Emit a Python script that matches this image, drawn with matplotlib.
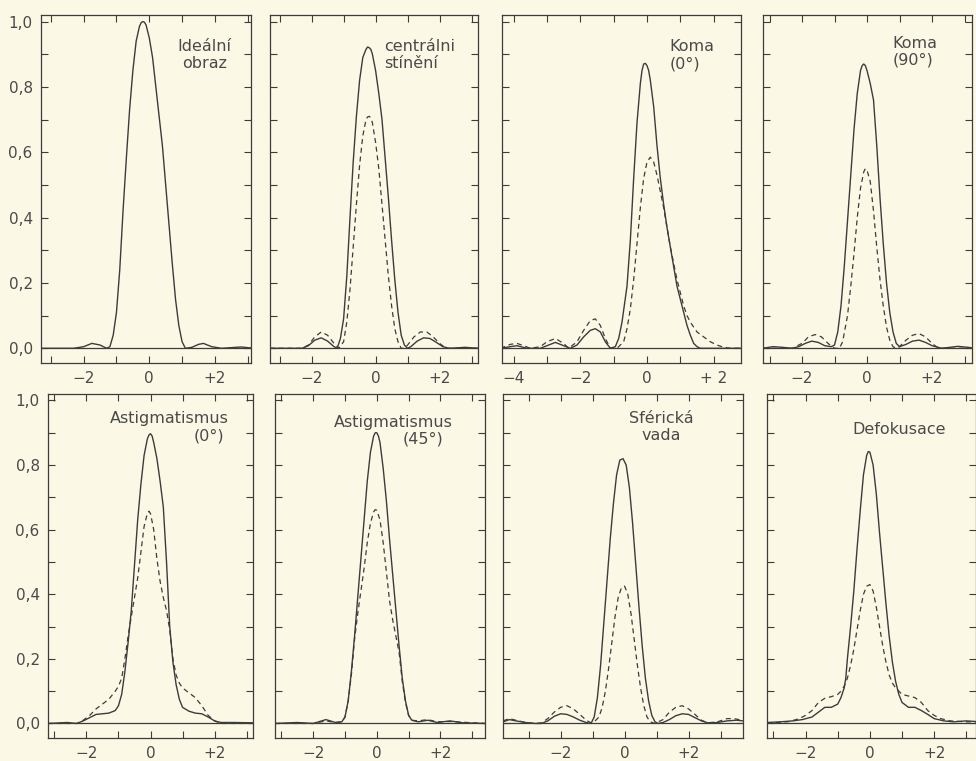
import numpy as np
import matplotlib.pyplot as plt

# ---- data (relative intensity vs. position) ----

# Idealni obraz (solid only)
x_ideal = [-3.3, -2.3, -2.0, -1.75, -1.5, -1.3, -1.2, -1.1, -1.0, -0.9, -0.8, -0.7, -0.6, -0.5,
           -0.4, -0.3, -0.25, -0.2, -0.15, -0.1, 0.0, 0.1, 0.2, 0.3, 0.4, 0.5, 0.6, 0.7, 0.8,
           0.9, 1.0, 1.1, 1.3, 1.5, 1.65, 1.9, 2.2, 2.8, 3.2]
y_ideal = [0.0, 0.0, 0.005, 0.015, 0.01, 0.0, 0.005, 0.04, 0.11, 0.24, 0.42, 0.58, 0.73, 0.85,
           0.94, 0.985, 0.996, 1.0, 0.998, 0.99, 0.95, 0.89, 0.80, 0.71, 0.62, 0.50, 0.38, 0.26,
           0.15, 0.07, 0.02, 0.0, 0.003, 0.012, 0.015, 0.005, 0.0, 0.004, 0.0]

# centralni stineni
x_stin_s = [-3.3, -2.3, -2.1, -1.9, -1.7, -1.5, -1.3, -1.2, -1.1, -1.0, -0.9, -0.8, -0.7, -0.6,
            -0.5, -0.4, -0.3, -0.25, -0.2, -0.15, -0.1, 0.0, 0.1, 0.2, 0.3, 0.4, 0.5, 0.6, 0.7,
            0.8, 0.9, 1.0, 1.1, 1.3, 1.5, 1.7, 1.9, 2.1, 2.3, 2.8, 3.2]
y_stin_s = [0.0, 0.0, 0.008, 0.025, 0.032, 0.022, 0.005, 0.0, 0.03, 0.09, 0.22, 0.40, 0.57, 0.71,
            0.82, 0.89, 0.915, 0.922, 0.92, 0.915, 0.90, 0.85, 0.78, 0.70, 0.58, 0.46, 0.33, 0.21,
            0.11, 0.04, 0.01, 0.0, 0.005, 0.022, 0.032, 0.03, 0.018, 0.005, 0.0, 0.003, 0.0]
x_stin_d = [-3.3, -2.3, -2.1, -1.9, -1.7, -1.5, -1.3, -1.15, -1.0, -0.9, -0.8, -0.7, -0.6, -0.5,
            -0.4, -0.3, -0.25, -0.2, -0.15, -0.1, 0.0, 0.1, 0.2, 0.3, 0.4, 0.5, 0.6, 0.7, 0.8,
            0.9, 1.0, 1.2, 1.4, 1.6, 1.8, 2.0, 2.2, 3.2]
y_stin_d = [0.0, 0.0, 0.01, 0.035, 0.05, 0.04, 0.015, 0.0, 0.02, 0.08, 0.18, 0.31, 0.44, 0.56,
            0.65, 0.70, 0.708, 0.71, 0.705, 0.69, 0.63, 0.55, 0.44, 0.33, 0.22, 0.13, 0.06, 0.02,
            0.0, 0.0, 0.01, 0.035, 0.05, 0.05, 0.035, 0.015, 0.0, 0.0]

# Koma (0 deg)
x_k0_s = [-4.4, -4.1, -3.9, -3.6, -3.2, -3.0, -2.75, -2.5, -2.3, -2.1, -1.9, -1.7, -1.55, -1.4,
          -1.25, -1.1, -0.95, -0.85, -0.75, -0.6, -0.5, -0.4, -0.3, -0.2, -0.15, -0.1, -0.05,
          0.0, 0.05, 0.1, 0.2, 0.3, 0.4, 0.5, 0.6, 0.7, 0.8, 0.9, 1.0, 1.1, 1.2, 1.3, 1.4, 1.5,
          1.6, 2.8]
y_k0_s = [0.0, 0.005, 0.008, 0.0, 0.0, 0.008, 0.018, 0.008, 0.0, 0.01, 0.035, 0.055, 0.06, 0.05,
          0.02, 0.0, 0.005, 0.03, 0.08, 0.19, 0.33, 0.52, 0.69, 0.81, 0.85, 0.87, 0.872, 0.865,
          0.85, 0.82, 0.74, 0.62, 0.52, 0.44, 0.37, 0.31, 0.25, 0.19, 0.15, 0.11, 0.07, 0.04,
          0.015, 0.005, 0.0, 0.0]
x_k0_d = [-4.4, -4.1, -3.9, -3.7, -3.5, -3.2, -3.0, -2.75, -2.5, -2.35, -2.1, -1.9, -1.7, -1.55,
          -1.4, -1.25, -1.1, -0.9, -0.7, -0.6, -0.5, -0.4, -0.3, -0.2, -0.1, 0.0, 0.1, 0.2, 0.3,
          0.4, 0.5, 0.6, 0.7, 0.8, 0.9, 1.0, 1.1, 1.2, 1.3, 1.5, 1.7, 1.9, 2.1, 2.3, 2.5, 2.8]
y_k0_d = [0.0, 0.012, 0.015, 0.008, 0.0, 0.005, 0.02, 0.03, 0.015, 0.0, 0.02, 0.055, 0.085, 0.09,
          0.07, 0.03, 0.0, 0.0, 0.02, 0.06, 0.12, 0.21, 0.32, 0.43, 0.52, 0.57, 0.585, 0.57, 0.53,
          0.48, 0.43, 0.37, 0.31, 0.26, 0.21, 0.17, 0.13, 0.10, 0.08, 0.05, 0.035, 0.02, 0.01,
          0.003, 0.0, 0.0]

# Koma (90 deg)
x_k90_s = [-3.2, -2.9, -2.6, -2.3, -2.1, -1.9, -1.7, -1.5, -1.3, -1.1, -1.0, -0.9, -0.8, -0.7,
           -0.6, -0.5, -0.4, -0.3, -0.2, -0.15, -0.1, -0.05, 0.0, 0.1, 0.2, 0.3, 0.4, 0.5, 0.6,
           0.7, 0.8, 0.9, 1.0, 1.2, 1.4, 1.6, 1.8, 2.0, 2.3, 2.8, 3.2]
y_k90_s = [0.0, 0.005, 0.003, 0.0, 0.005, 0.015, 0.022, 0.018, 0.008, 0.005, 0.01, 0.05, 0.13, 0.25,
           0.39, 0.53, 0.67, 0.78, 0.85, 0.865, 0.87, 0.865, 0.85, 0.81, 0.76, 0.62, 0.46, 0.32,
           0.20, 0.11, 0.05, 0.015, 0.005, 0.012, 0.022, 0.025, 0.018, 0.008, 0.0, 0.006, 0.002]
x_k90_d = [-3.2, -2.3, -2.0, -1.8, -1.6, -1.4, -1.2, -1.0, -0.85, -0.75, -0.6, -0.5, -0.4, -0.3,
           -0.2, -0.1, -0.05, 0.0, 0.1, 0.2, 0.3, 0.4, 0.5, 0.6, 0.7, 0.8, 0.9, 1.0, 1.2, 1.4,
           1.6, 1.8, 2.0, 2.2, 3.2]
y_k90_d = [0.0, 0.0, 0.015, 0.035, 0.042, 0.035, 0.015, 0.0, 0.0, 0.02, 0.10, 0.19, 0.29, 0.40,
           0.49, 0.54, 0.55, 0.545, 0.51, 0.42, 0.31, 0.21, 0.13, 0.065, 0.025, 0.005, 0.0, 0.005,
           0.025, 0.04, 0.045, 0.035, 0.015, 0.0, 0.0]

# Astigmatismus (0 deg)
x_a0_s = [-3.2, -2.6, -2.3, -2.1, -1.9, -1.7, -1.5, -1.3, -1.1, -1.0, -0.9, -0.8, -0.7, -0.6,
          -0.5, -0.4, -0.3, -0.2, -0.1, -0.05, 0.0, 0.05, 0.1, 0.2, 0.3, 0.4, 0.5, 0.6, 0.7,
          0.8, 0.9, 1.0, 1.2, 1.4, 1.6, 1.8, 2.0, 2.2, 2.6, 3.2]
y_a0_s = [0.0, 0.003, 0.0, 0.008, 0.018, 0.028, 0.03, 0.032, 0.04, 0.055, 0.09, 0.16, 0.25, 0.35,
          0.49, 0.63, 0.74, 0.83, 0.88, 0.893, 0.897, 0.89, 0.87, 0.82, 0.75, 0.67, 0.50, 0.30,
          0.19, 0.12, 0.075, 0.05, 0.038, 0.032, 0.03, 0.02, 0.008, 0.003, 0.003, 0.002]
x_a0_d = [-3.2, -2.3, -2.1, -1.9, -1.7, -1.5, -1.3, -1.1, -1.0, -0.9, -0.8, -0.7, -0.6, -0.5,
          -0.4, -0.3, -0.2, -0.1, -0.05, 0.0, 0.1, 0.2, 0.3, 0.4, 0.5, 0.6, 0.7, 0.8, 0.9, 1.0,
          1.2, 1.4, 1.6, 1.8, 2.0, 2.2, 3.2]
y_a0_d = [0.0, 0.0, 0.01, 0.025, 0.045, 0.06, 0.075, 0.1, 0.115, 0.14, 0.2, 0.27, 0.33, 0.39,
          0.45, 0.53, 0.61, 0.65, 0.657, 0.65, 0.60, 0.51, 0.44, 0.39, 0.35, 0.29, 0.20, 0.15,
          0.125, 0.11, 0.095, 0.08, 0.055, 0.025, 0.008, 0.0, 0.0]

# Astigmatismus (45 deg)
x_a45_s = [-3.2, -2.5, -2.0, -1.6, -1.3, -1.1, -1.0, -0.9, -0.8, -0.7, -0.6, -0.5, -0.4, -0.3,
           -0.2, -0.1, -0.05, 0.0, 0.05, 0.1, 0.2, 0.3, 0.4, 0.5, 0.6, 0.7, 0.8, 0.9, 1.0, 1.1,
           1.3, 1.6, 1.9, 2.3, 2.7, 3.4]
y_a45_s = [0.0, 0.003, 0.0, 0.012, 0.003, 0.005, 0.02, 0.07, 0.16, 0.27, 0.39, 0.51, 0.63, 0.75,
           0.84, 0.89, 0.90, 0.90, 0.89, 0.87, 0.79, 0.69, 0.57, 0.46, 0.35, 0.24, 0.14, 0.07,
           0.025, 0.01, 0.005, 0.01, 0.003, 0.008, 0.002, 0.0]
x_a45_d = [-3.2, -2.0, -1.6, -1.3, -1.1, -1.0, -0.9, -0.8, -0.7, -0.6, -0.5, -0.4, -0.3, -0.2,
           -0.1, -0.05, 0.0, 0.1, 0.2, 0.3, 0.4, 0.5, 0.6, 0.7, 0.8, 0.9, 1.0, 1.1, 1.3, 1.6,
           1.9, 2.3, 3.4]
y_a45_d = [0.0, 0.0, 0.008, 0.003, 0.005, 0.02, 0.07, 0.15, 0.26, 0.34, 0.41, 0.48, 0.56, 0.62,
           0.655, 0.662, 0.66, 0.63, 0.56, 0.47, 0.38, 0.32, 0.27, 0.22, 0.13, 0.065, 0.025, 0.01,
           0.008, 0.012, 0.005, 0.006, 0.0]

# Sfericka vada
x_sf_s = [-3.8, -3.6, -3.4, -3.1, -2.8, -2.6, -2.4, -2.2, -2.0, -1.8, -1.6, -1.4, -1.2, -1.05,
          -0.95, -0.85, -0.75, -0.65, -0.55, -0.45, -0.35, -0.25, -0.15, -0.05, 0.05, 0.15,
          0.25, 0.35, 0.45, 0.55, 0.65, 0.75, 0.85, 0.95, 1.05, 1.2, 1.4, 1.6, 1.8, 2.0, 2.2,
          2.4, 2.6, 2.9, 3.2, 3.5, 3.7]
y_sf_s = [0.005, 0.012, 0.008, 0.003, 0.0, 0.0, 0.008, 0.022, 0.03, 0.028, 0.02, 0.01, 0.003, 0.0,
          0.02, 0.08, 0.18, 0.31, 0.44, 0.57, 0.68, 0.77, 0.815, 0.82, 0.80, 0.73, 0.62, 0.49,
          0.36, 0.24, 0.14, 0.07, 0.025, 0.005, 0.0, 0.003, 0.012, 0.024, 0.03, 0.028, 0.018,
          0.008, 0.002, 0.003, 0.008, 0.01, 0.008]
x_sf_d = [-3.8, -3.6, -3.4, -3.1, -2.8, -2.6, -2.4, -2.2, -2.0, -1.8, -1.6, -1.4, -1.2, -1.05,
          -0.95, -0.8, -0.7, -0.6, -0.5, -0.4, -0.3, -0.2, -0.1, 0.0, 0.1, 0.2, 0.3, 0.4, 0.5,
          0.6, 0.7, 0.8, 0.95, 1.2, 1.4, 1.6, 1.8, 2.0, 2.2, 2.4, 2.6, 2.9, 3.2, 3.4, 3.7]
y_sf_d = [0.008, 0.015, 0.01, 0.003, 0.0, 0.002, 0.015, 0.035, 0.05, 0.055, 0.045, 0.028, 0.01,
          0.002, 0.005, 0.02, 0.05, 0.10, 0.17, 0.25, 0.33, 0.39, 0.42, 0.425, 0.40, 0.34, 0.26,
          0.18, 0.11, 0.055, 0.02, 0.005, 0.0, 0.012, 0.035, 0.05, 0.055, 0.045, 0.028, 0.01,
          0.002, 0.005, 0.015, 0.015, 0.01]

# Defokusace
x_df_s = [-3.2, -2.8, -2.4, -2.1, -1.8, -1.6, -1.4, -1.2, -1.0, -0.9, -0.8, -0.75, -0.7, -0.6,
          -0.5, -0.4, -0.3, -0.2, -0.1, -0.05, 0.0, 0.1, 0.2, 0.3, 0.4, 0.5, 0.6, 0.7, 0.8, 0.9,
          1.0, 1.2, 1.4, 1.6, 1.8, 2.0, 2.3, 2.6, 3.0, 3.3]
y_df_s = [0.003, 0.005, 0.008, 0.012, 0.02, 0.035, 0.05, 0.05, 0.06, 0.08, 0.11, 0.14, 0.20, 0.30,
          0.41, 0.54, 0.66, 0.77, 0.83, 0.842, 0.84, 0.80, 0.71, 0.59, 0.48, 0.37, 0.27, 0.19,
          0.13, 0.09, 0.065, 0.05, 0.05, 0.04, 0.028, 0.015, 0.008, 0.005, 0.008, 0.006]
x_df_d = [-3.2, -2.8, -2.5, -2.2, -2.0, -1.8, -1.6, -1.4, -1.2, -1.0, -0.9, -0.8, -0.7, -0.6,
          -0.5, -0.4, -0.3, -0.2, -0.1, 0.0, 0.1, 0.2, 0.3, 0.4, 0.5, 0.6, 0.7, 0.8, 0.9, 1.0,
          1.2, 1.4, 1.6, 1.8, 2.0, 2.2, 2.5, 3.0, 3.3]
y_df_d = [0.002, 0.003, 0.006, 0.015, 0.025, 0.04, 0.065, 0.078, 0.083, 0.09, 0.10, 0.115, 0.14,
          0.18, 0.23, 0.29, 0.35, 0.40, 0.425, 0.43, 0.41, 0.36, 0.30, 0.24, 0.19, 0.15, 0.125,
          0.11, 0.10, 0.09, 0.085, 0.08, 0.065, 0.04, 0.025, 0.015, 0.008, 0.005, 0.005]

# panel captions: (text, x, y, ha) in axes fraction
captions = [
    [("Ideální\nobraz", 0.78, 0.93, "center")],
    [("centrálni\nstínění", 0.55, 0.93, "left")],
    [("Koma\n(0°)", 0.70, 0.93, "left")],
    [("Koma\n(90°)", 0.62, 0.94, "left")],
    [("Astigmatismus", 0.30, 0.95, "left"), ("(0°)", 0.86, 0.90, "right")],
    [("Astigmatismus", 0.28, 0.94, "left"), ("(45°)", 0.61, 0.89, "left")],
    [("Sférická\nvada", 0.66, 0.95, "center")],
    [("Defokusace", 0.41, 0.92, "left")],
]

# ---- layout ----
bg = "#fbf8e5"
ink = "#3c3c3c"
W, H = 976, 761

fig = plt.figure(figsize=(W / 100, H / 100), dpi=100, facecolor=bg)

# panel boxes in pixels: left, right, top, bottom
boxes = [(41, 251, 15, 363), (270, 478, 15, 363), (502, 741, 15, 363), (763, 972, 15, 363),
         (48, 253, 394, 738), (275, 485, 394, 738), (503, 743, 394, 738), (767, 976, 394, 738)]
xlims = [(-3.3, 3.1), (-3.3, 3.2), (-4.35, 2.82), (-3.2, 3.23),
         (-3.2, 3.2), (-3.2, 3.4), (-3.8, 3.7), (-3.2, 3.3)]

curves = [
    [(x_ideal, y_ideal, "-")],
    [(x_stin_s, y_stin_s, "-"), (x_stin_d, y_stin_d, "--")],
    [(x_k0_s, y_k0_s, "-"), (x_k0_d, y_k0_d, "--")],
    [(x_k90_s, y_k90_s, "-"), (x_k90_d, y_k90_d, "--")],
    [(x_a0_s, y_a0_s, "-"), (x_a0_d, y_a0_d, "--")],
    [(x_a45_s, y_a45_s, "-"), (x_a45_d, y_a45_d, "--")],
    [(x_sf_s, y_sf_s, "-"), (x_sf_d, y_sf_d, "--")],
    [(x_df_s, y_df_s, "-"), (x_df_d, y_df_d, "--")],
]

for i in range(8):
    l, r, t, b = boxes[i]
    ax = fig.add_axes([l / W, 1 - b / H, (r - l) / W, (b - t) / H])
    ax.set_facecolor(bg)
    for c in curves[i]:
        if c[2] == "-":
            ax.plot(c[0], c[1], color=ink, lw=1.0)
        else:
            ax.plot(c[0], c[1], color=ink, lw=0.9, dashes=(4, 3))
    ax.axhline(0, color=ink, lw=0.9)

    x0, x1 = xlims[i]
    ax.set_xlim(x0, x1)
    ax.set_ylim(-0.045, 1.02)

    xt = np.arange(np.ceil(x0), np.floor(x1) + 1)
    xl = []
    for v in xt:
        if v == 0:
            xl.append("0")
        elif v in (-2, -4):
            xl.append("−%d" % abs(v))
        elif v == 2:
            xl.append("+ 2" if i == 2 else "+2")
        else:
            xl.append("")
    ax.set_xticks(xt, labels=xl)

    yt = np.arange(0, 1.01, 0.1)
    if i % 4 == 0:
        ax.set_yticks(yt, labels=[("%.1f" % v).replace(".", ",") if k % 2 == 0 else ""
                                  for k, v in enumerate(yt)])
    else:
        ax.set_yticks(yt, labels=[])

    ax.tick_params(direction="in", top=True, right=True, length=5, width=0.8,
                   colors=ink, labelcolor="#4a4a4a", labelsize=11)
    ax.tick_params(axis="x", pad=6)
    ax.tick_params(axis="y", pad=6)
    for s in ax.spines.values():
        s.set_color(ink)
        s.set_linewidth(0.9)

    for txt, tx, ty, ha in captions[i]:
        ax.text(tx, ty, txt, transform=ax.transAxes, ha=ha, va="top",
                fontsize=11.5, color="#4a4a4a", linespacing=1.15)

fig.savefig("out.png", dpi=100, facecolor=bg)
